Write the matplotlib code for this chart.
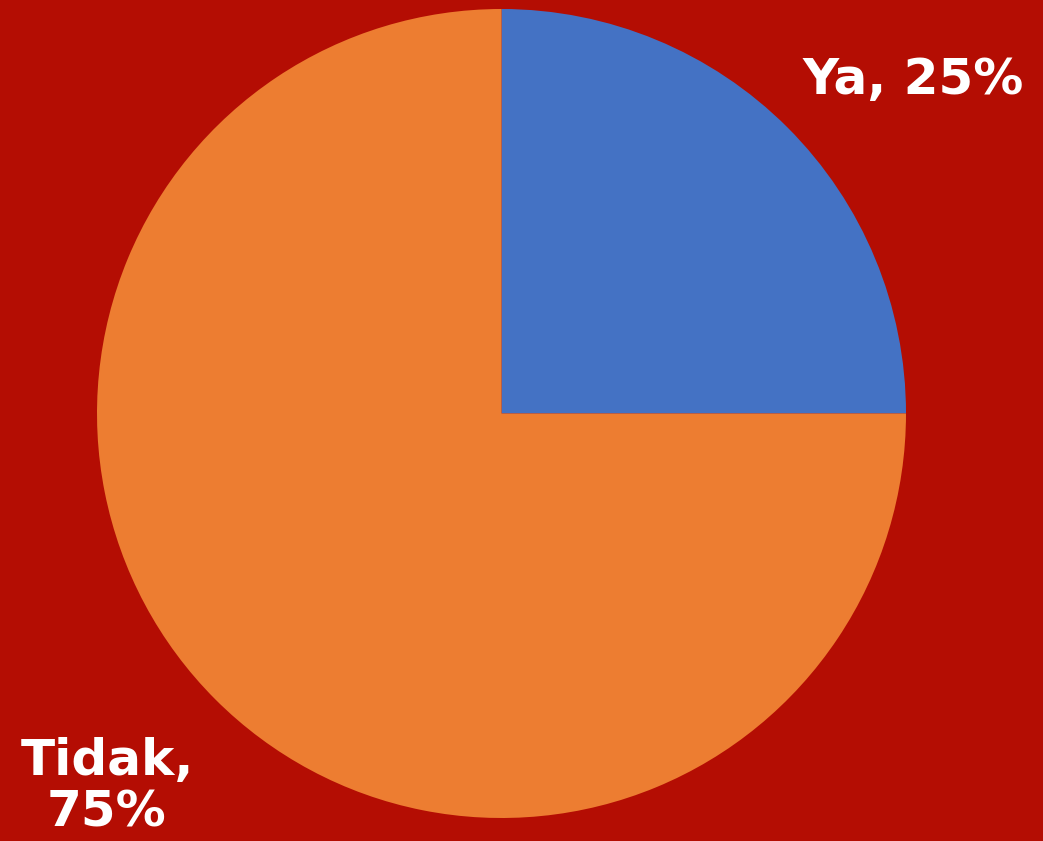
import matplotlib
matplotlib.use("Agg")
import matplotlib.pyplot as plt

# data
labels = ["Ya", "Tidak"]
values = [25, 75]
colors = ["#4472C4", "#ED7D31"]

bg = "#B40D03"

fig = plt.figure(figsize=(10.43, 8.41), dpi=100)
fig.patch.set_facecolor(bg)

# pie area in pixels: left 97, bottom 23, size 809
ax = fig.add_axes([97 / 1043, 23 / 841, 809 / 1043, 809 / 841])
ax.set_facecolor(bg)
wedges, _ = ax.pie(values, colors=colors, startangle=90, counterclock=False,
                   wedgeprops=dict(linewidth=0))
ax.set_xlim(-1, 1)
ax.set_ylim(-1, 1)
ax.axis("off")

fnt = dict(color="white", fontweight="bold", family="DejaVu Sans", fontsize=36)
fig.text(913 / 1043, 1 - 80 / 841, f"{labels[0]}, {values[0]}%", ha="center", va="center", **fnt)
fig.text(107 / 1043, 1 - 787 / 841, f"{labels[1]},\n{values[1]}%", ha="center", va="center",
         linespacing=1.1, **fnt)

fig.savefig("out.png", dpi=100, facecolor=bg)
